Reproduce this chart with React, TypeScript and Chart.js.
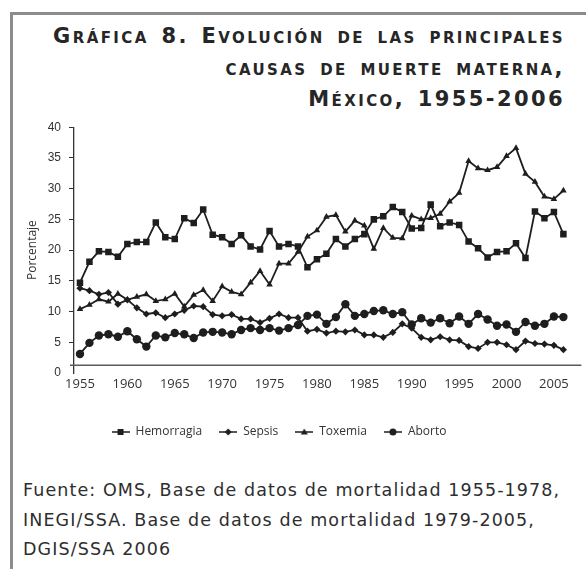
import React, { useEffect, useRef } from 'react';
import { Chart, registerables } from 'chart.js';

Chart.register(...registerables);

// ---------- data ----------
const years = [
  1955, 1956, 1957, 1958, 1959, 1960, 1961, 1962, 1963, 1964,
  1965, 1966, 1967, 1968, 1969, 1970, 1971, 1972, 1973, 1974,
  1975, 1976, 1977, 1978, 1979, 1980, 1981, 1982, 1983, 1984,
  1985, 1986, 1987, 1988, 1989, 1990, 1991, 1992, 1993, 1994,
  1995, 1996, 1997, 1998, 1999, 2000, 2001, 2002, 2003, 2004,
  2005, 2006,
];

const hemorragia = [
  14.7, 18.1, 19.8, 19.7, 18.9, 21.0, 21.3, 21.3, 24.5, 22.1,
  21.8, 25.2, 24.4, 26.6, 22.5, 22.1, 21.0, 22.4, 20.6, 20.1,
  23.1, 20.6, 21.0, 20.6, 17.2, 18.5, 19.4, 21.8, 20.6, 21.8,
  22.6, 25.0, 25.5, 27.0, 26.2, 23.5, 23.6, 27.4, 23.9, 24.5,
  24.1, 21.4, 20.3, 18.8, 19.7, 19.8, 21.1, 18.7, 26.3, 25.2,
  26.2, 22.6,
];

const sepsis = [
  13.8, 13.4, 12.8, 13.1, 11.2, 11.9, 10.6, 9.6, 9.8, 9.0,
  9.6, 10.2, 10.9, 10.8, 9.5, 9.3, 9.5, 8.8, 8.8, 8.2,
  8.9, 9.6, 9.0, 9.0, 6.8, 7.1, 6.5, 6.8, 6.7, 7.0,
  6.2, 6.2, 5.8, 6.6, 8.0, 7.3, 5.8, 5.4, 5.9, 5.4,
  5.3, 4.3, 4.0, 5.0, 5.0, 4.6, 3.8, 5.2, 4.8, 4.7,
  4.5, 3.8,
];

const toxemia = [
  10.4, 11.1, 12.0, 11.6, 12.9, 11.9, 12.4, 12.8, 11.7, 12.0,
  12.9, 10.8, 12.7, 13.5, 11.7, 14.1, 13.2, 12.8, 14.7, 16.6,
  14.4, 17.8, 17.8, 19.7, 22.2, 23.2, 25.4, 25.7, 23.0, 24.8,
  24.0, 20.2, 23.6, 22.0, 21.9, 25.6, 25.0, 25.2, 25.9, 27.9,
  29.3, 34.5, 33.3, 33.0, 33.5, 35.3, 36.6, 32.4, 31.1, 28.7,
  28.3, 29.7,
];

const aborto = [
  3.1, 4.9, 6.1, 6.3, 5.9, 6.8, 5.5, 4.3, 6.1, 5.8,
  6.5, 6.3, 5.7, 6.6, 6.7, 6.6, 6.3, 7.0, 7.3, 7.0,
  7.3, 6.9, 7.3, 7.8, 9.3, 9.5, 8.0, 9.1, 11.2, 9.3,
  9.6, 10.1, 10.2, 9.6, 9.9, 7.9, 8.9, 8.2, 8.9, 8.1,
  9.2, 8.0, 9.6, 8.7, 7.7, 7.9, 6.7, 8.3, 7.7, 8.0,
  9.2, 9.1,
];

const seriesNames = ['Hemorragia', 'Sepsis', 'Toxemia', 'Aborto'];
const seriesValues = [hemorragia, sepsis, toxemia, aborto];
const xTickValues = [1955, 1960, 1965, 1970, 1975, 1980, 1985, 1990, 1995, 2000, 2005];
const yTickValues = [0, 5, 10, 15, 20, 25, 30, 35, 40];

const titleLines = [
  'Gráfica 8. Evolución de las principales',
  'causas de muerte materna,',
  'México, 1955-2006',
];
const sourceLines = [
  'Fuente: OMS, Base de datos de mortalidad 1955-1978,',
  'INEGI/SSA. Base de datos de mortalidad 1979-2005,',
  'DGIS/SSA 2006',
];

// ---------- styles ----------
const LINE_COLOR = '#1e1e1e';
const TEXT_COLOR = '#333333';
const pointStyles = ['rect', 'rectRot', 'triangle', 'circle'];
const pointRadii = [4.6, 3.6, 3.8, 4.2];
const X_MIN = 1954.37;
const X_MAX = 2007.9;
const BASELINE_VALUE = 1.25; // where the horizontal axis line is drawn
const LEGEND_SHIFT = 13;

function makeLegendIcon(style: string): HTMLCanvasElement {
  const c = document.createElement('canvas');
  c.width = 18;
  c.height = 10;
  const g = c.getContext('2d') as CanvasRenderingContext2D;
  g.strokeStyle = LINE_COLOR;
  g.fillStyle = LINE_COLOR;
  g.lineWidth = 1.5;
  g.beginPath();
  g.moveTo(0, 5);
  g.lineTo(18, 5);
  g.stroke();
  g.beginPath();
  if (style === 'rect') {
    g.rect(6, 2, 6, 6);
  } else if (style === 'rectRot') {
    g.moveTo(9, 1.5);
    g.lineTo(12.5, 5);
    g.lineTo(9, 8.5);
    g.lineTo(5.5, 5);
    g.closePath();
  } else if (style === 'triangle') {
    g.moveTo(9, 1.5);
    g.lineTo(12.5, 7.5);
    g.lineTo(5.5, 7.5);
    g.closePath();
  } else {
    g.arc(9, 5, 3.5, 0, Math.PI * 2);
  }
  g.fill();
  return c;
}

const baselinePlugin = {
  id: 'baselineAxis',
  afterLayout(chart: any) {
    const lg = chart.legend;
    if (lg) {
      lg.right -= LEGEND_SHIFT * 2;
      lg.width = lg.right - lg.left;
    }
  },
  beforeDatasetsDraw(chart: any) {
    const { ctx, chartArea, scales } = chart;
    const y = scales.y.getPixelForValue(BASELINE_VALUE);
    ctx.save();
    ctx.strokeStyle = '#5a5a5a';
    ctx.lineWidth = 1.5;
    ctx.beginPath();
    ctx.moveTo(chartArea.left - 4, y);
    ctx.lineTo(chartArea.right, y);
    ctx.stroke();
    ctx.restore();
  },
};

const CANVAS_TOP = 112;
const CANVAS_W = 586;
const CANVAS_H = 336;

export default function App() {
  const canvasRef = useRef<HTMLCanvasElement | null>(null);

  useEffect(() => {
    if (!canvasRef.current) return;
    const icons = pointStyles.map((s) => makeLegendIcon(s));
    const chart = new Chart(canvasRef.current, {
      type: 'line',
      data: {
        datasets: seriesNames.map((name, i) => ({
          label: name,
          data: years.map((yr, j) => ({ x: yr, y: seriesValues[i][j] })),
          borderColor: LINE_COLOR,
          backgroundColor: LINE_COLOR,
          borderWidth: 1.8,
          pointStyle: pointStyles[i] as any,
          pointRadius: pointRadii[i],
          pointBackgroundColor: LINE_COLOR,
          pointBorderColor: LINE_COLOR,
          pointBorderWidth: 0,
          tension: 0,
          fill: false,
        })),
      },
      options: {
        animation: false,
        responsive: false,
        devicePixelRatio: 1,
        layout: { padding: { top: 13, right: 2, left: 0, bottom: 0 } },
        plugins: {
          tooltip: { enabled: false },
          legend: {
            display: true,
            position: 'bottom',
            labels: {
              usePointStyle: true,
              pointStyleWidth: 18,
              boxHeight: 12,
              padding: 17,
              color: TEXT_COLOR,
              font: { family: '"Open Sans"', size: 12 },
              generateLabels: (ch: any) =>
                ch.data.datasets.map((ds: any, i: number) => ({
                  text: ds.label,
                  pointStyle: icons[i],
                  fillStyle: LINE_COLOR,
                  strokeStyle: LINE_COLOR,
                  lineWidth: 0,
                  hidden: false,
                  datasetIndex: i,
                  fontColor: TEXT_COLOR,
                })),
            },
          },
        },
        scales: {
          x: {
            type: 'linear',
            min: X_MIN,
            max: X_MAX,
            afterBuildTicks: (s: any) => {
              s.ticks = xTickValues.map((v) => ({ value: v }));
            },
            afterFit: (s: any) => {
              s.height = 36;
            },
            grid: { display: false, drawTicks: false },
            border: { display: false },
            ticks: {
              autoSkip: false,
              maxRotation: 0,
              padding: 3,
              color: TEXT_COLOR,
              font: { family: '"Open Sans"', size: 13 },
              callback: (v: any) => String(v),
            },
          },
          y: {
            type: 'linear',
            min: 0,
            max: 40,
            afterBuildTicks: (s: any) => {
              s.ticks = yTickValues.map((v) => ({ value: v }));
            },
            afterFit: (s: any) => {
              s.width = 74;
            },
            grid: {
              display: true,
              drawOnChartArea: false,
              drawTicks: true,
              tickLength: 5,
              lineWidth: 1,
              color: (c: any) => (c.tick && c.tick.value === 0 ? 'rgba(0,0,0,0)' : '#333'),
            },
            border: { display: true, color: '#333', width: 1.3 },
            ticks: {
              padding: 8,
              color: TEXT_COLOR,
              font: { family: '"Liberation Sans"', size: 12 },
              callback: (v: any) => String(v),
            },
            title: {
              display: true,
              text: 'Porcentaje',
              color: TEXT_COLOR,
              font: { family: '"Open Sans"', size: 12 },
              padding: { top: 25, bottom: 0 },
            },
          },
        },
      },
      plugins: [baselinePlugin],
    } as any);
    return () => chart.destroy();
  }, []);

  return (
    <div
      style={{
        position: 'absolute',
        left: 0,
        top: 0,
        width: 586,
        height: 569,
        background: '#fff',
        overflow: 'hidden',
      }}
    >
      <div
        style={{
          position: 'absolute',
          left: 10,
          top: 12,
          right: 0,
          bottom: 0,
          borderTop: '3px solid #8c8c8c',
          borderLeft: '3px solid #8c8c8c',
        }}
      />
      <div
        style={{
          position: 'absolute',
          right: 21,
          top: 21,
          textAlign: 'right',
          fontFamily: '"DejaVu Sans", sans-serif',
          fontWeight: 700,
          fontVariant: 'small-caps',
          fontSize: 21,
          letterSpacing: '2.4px',
          wordSpacing: '3px',
          lineHeight: '31.5px',
          color: '#262626',
          whiteSpace: 'nowrap',
        }}
      >
        {titleLines.map((t, i) => (
          <div key={i}>{t}</div>
        ))}
      </div>
      <canvas
        ref={canvasRef}
        width={CANVAS_W}
        height={CANVAS_H}
        style={{ position: 'absolute', left: 0, top: CANVAS_TOP, width: CANVAS_W, height: CANVAS_H }}
      />
      <div
        style={{
          position: 'absolute',
          left: 23,
          top: 476,
          fontFamily: '"DejaVu Sans", sans-serif',
          fontSize: 17.5,
          letterSpacing: '1.1px',
          lineHeight: '29.5px',
          color: '#2e2e2e',
          whiteSpace: 'nowrap',
        }}
      >
        {sourceLines.map((t, i) => (
          <div key={i}>{t}</div>
        ))}
      </div>
    </div>
  );
}
